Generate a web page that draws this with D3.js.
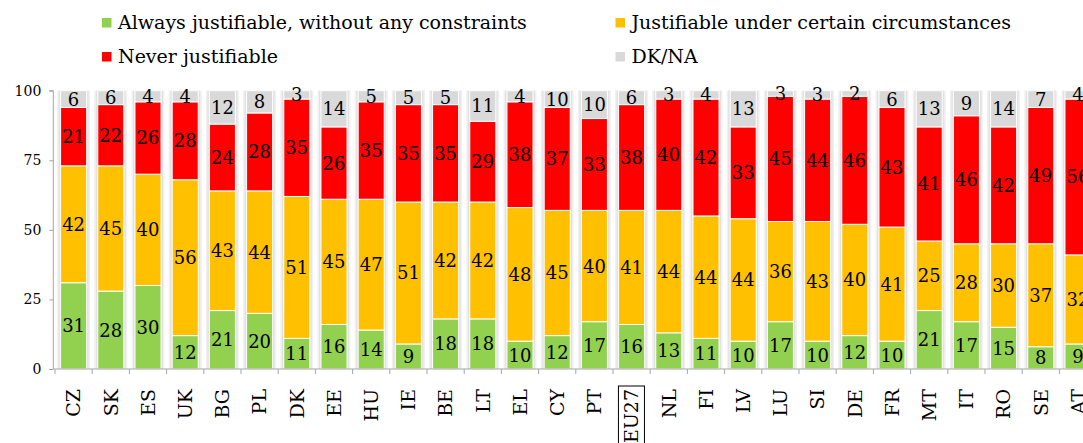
<!DOCTYPE html>
<html>
<head>
<meta charset="utf-8">
<script src="https://cdn.jsdelivr.net/npm/d3@7"></script>
<style>
  body { margin: 0; background: #fff; }
  svg { display: block; font-family: "DejaVu Serif", serif; }
</style>
</head>
<body>
<script>
// Chart data
const countries = ["CZ", "SK", "ES", "UK", "BG", "PL", "DK", "EE", "HU", "IE", "BE", "LT", "EL", "CY",
                   "PT", "EU27", "NL", "FI", "LV", "LU", "SI", "DE", "FR", "MT", "IT", "RO", "SE", "AT"];
const always =  [31, 28, 30, 12, 21, 20, 11, 16, 14, 9, 18, 18, 10, 12, 17, 16, 13, 11, 10, 17, 10, 12, 10, 21, 17, 15, 8, 9];
const certain = [42, 45, 40, 56, 43, 44, 51, 45, 47, 51, 42, 42, 48, 45, 40, 41, 44, 44, 44, 36, 43, 40, 41, 25, 28, 30, 37, 32];
const never =   [21, 22, 26, 28, 24, 28, 35, 26, 35, 35, 35, 29, 38, 37, 33, 38, 40, 42, 33, 45, 44, 46, 43, 41, 46, 42, 49, 56];
const dkna =    [6, 6, 4, 4, 12, 8, 3, 14, 5, 5, 5, 11, 4, 10, 10, 6, 3, 4, 13, 3, 3, 2, 6, 13, 9, 14, 7, 4];
const seriesNames = ["Always justifiable, without any constraints", "Justifiable under certain circumstances",
                     "Never justifiable", "DK/NA"];
const yTicks = [0, 25, 50, 75, 100];

const seriesValues = [always, certain, never, dkna];
const colors = ["#92d050", "#ffc000", "#ff0000", "#d9d9d9"];

let width = 1083, height = 443;
let margin = { left: 55, bottom: 74, top: 90.7 };
const step = 37.2;

let svg = d3.select("body")
            .append("svg")
            .attr("width", width)
            .attr("height", height);

// Scales
const x = d3.scaleBand()
    .domain(countries)
    .range([margin.left, margin.left + step * countries.length])
    .paddingInner(0.3)
    .paddingOuter(0.15);

const y = d3.scaleLinear()
    .domain([0, 100])
    .range([height - margin.bottom, margin.top]);

// Stack the four series per country, capped at 100
const rows = countries.map((c, i) => {
    let cum = 0;
    return seriesValues.map((vals, s) => {
        const v = vals[i];
        const y0 = cum;
        const y1 = Math.min(cum + v, 100);
        cum += v;
        return { country: c, series: s, value: v, y0: y0, y1: y1 };
    });
});

// Soft shadow columns behind each bar
const shadow = svg.append("g");
shadow.selectAll("rect.outer")
      .data(countries)
      .enter()
      .append("rect")
      .attr("x", d => x(d) - 3.5)
      .attr("y", y(100))
      .attr("width", x.bandwidth() + 7)
      .attr("height", y(0) - y(100))
      .attr("fill", "#f1f1f1");
shadow.selectAll("rect.inner")
      .data(countries)
      .enter()
      .append("rect")
      .attr("x", d => x(d) - 2)
      .attr("y", y(100))
      .attr("width", x.bandwidth() + 4)
      .attr("height", y(0) - y(100))
      .attr("fill", "#e2e2e2");

// Bars
const bars = svg.append("g");
rows.forEach(segs => {
    segs.forEach(d => {
        bars.append("rect")
            .attr("x", x(d.country))
            .attr("y", y(d.y1))
            .attr("width", x.bandwidth())
            .attr("height", Math.max(0, y(d.y0) - y(d.y1)))
            .attr("fill", colors[d.series])
            .attr("stroke", "#fff")
            .attr("stroke-width", 1);
    });
});

// Value labels
rows.forEach(segs => {
    segs.forEach(d => {
        svg.append("text")
           .attr("x", x(d.country) + x.bandwidth() / 2)
           .attr("y", y((d.y0 + d.y1) / 2))
           .attr("dy", "0.36em")
           .attr("text-anchor", "middle")
           .attr("font-size", 18)
           .attr("fill", "#000")
           .text(d.value);
    });
});

// Y axis
const yAxis = svg.append("g")
   .attr("transform", `translate(${margin.left - 1.7},0)`)
   .call(d3.axisLeft(y).tickValues(yTicks).tickSize(4).tickPadding(8));
yAxis.selectAll("path, line").attr("stroke", "#a6a6a6");
yAxis.selectAll("text").attr("font-size", 14).attr("font-family", "DejaVu Serif").attr("fill", "#000");
yAxis.select("path").attr("d", `M-4,${y(100)}H0V${y(0)}`);

// X axis with ticks on band boundaries
const xAxis = svg.append("g")
   .attr("transform", `translate(0,${y(0)})`)
   .call(d3.axisBottom(x).tickSize(0));
xAxis.select("path").attr("stroke", "#a6a6a6").attr("d", `M${margin.left - 1.7},0H${width}`);
xAxis.selectAll(".tick line")
     .attr("x1", -step / 2).attr("x2", -step / 2)
     .attr("y2", 5)
     .attr("stroke", "#a6a6a6");
xAxis.selectAll(".tick text")
     .attr("font-size", 19)
     .attr("font-family", "DejaVu Serif")
     .attr("fill", "#000")
     .attr("text-anchor", "end")
     .attr("transform", "rotate(-90)")
     .attr("x", -20)
     .attr("y", 0)
     .attr("dy", "0.36em");

// Box round the EU27 label
xAxis.selectAll(".tick")
     .filter(d => d === "EU27")
     .each(function() {
         const t = d3.select(this).select("text").node().getBBox();
         // bbox is in rotated coords: swap to screen
         d3.select(this).append("rect")
           .attr("transform", "rotate(-90)")
           .attr("x", t.x - 3)
           .attr("y", t.y - 2)
           .attr("width", t.width + 6)
           .attr("height", t.height + 4)
           .attr("fill", "none")
           .attr("stroke", "#000")
           .attr("stroke-width", 1);
     });

// Legend
const legendPos = [[102, 18], [615.5, 18], [102, 52], [615.5, 52]];
const legend = svg.append("g");
seriesNames.forEach((name, i) => {
    const p = legendPos[i];
    legend.append("rect")
          .attr("x", p[0])
          .attr("y", p[1])
          .attr("width", 9.5)
          .attr("height", 9.5)
          .attr("fill", colors[i]);
    legend.append("text")
          .attr("x", p[0] + 16)
          .attr("y", p[1] + 10.5)
          .attr("font-size", 19)
          .attr("fill", "#000")
          .text(name);
});
</script>
</body>
</html>
